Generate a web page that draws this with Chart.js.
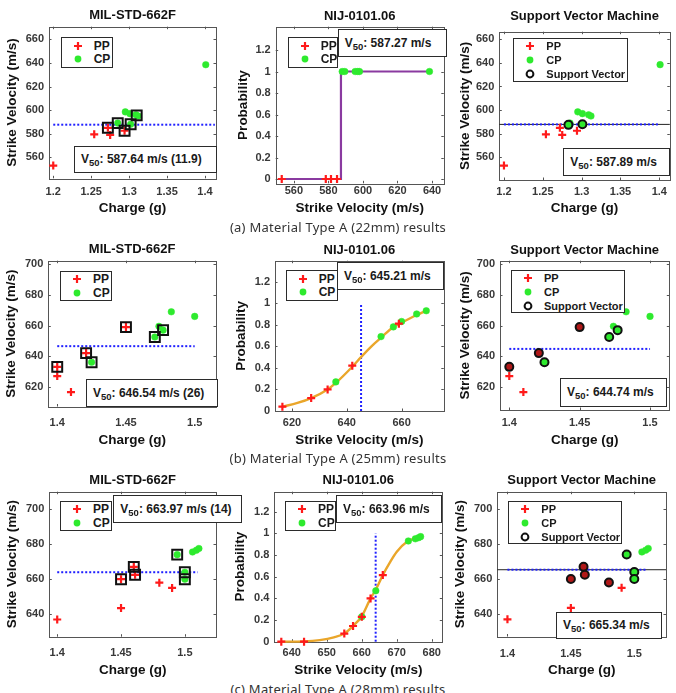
<!DOCTYPE html>
<html>
<head>
<meta charset="utf-8">
<title>V50 results - Material Type A</title>
<script src="https://cdn.jsdelivr.net/npm/chart.js"></script>
<style>
  body { margin: 0; background: #fff; }
  #page { position: relative; width: 676px; height: 693px; overflow: hidden; background: #fff; }
  canvas { position: absolute; }
  .legend, .v50 { position: absolute; background: #fff; border: 1px solid #2b2b2b; box-sizing: border-box;
    font-family: 'Liberation Sans', Arial, sans-serif; font-weight: bold; color: #1a1a1a; }
  .legend .mk { position: absolute; left: 11px; width: 10px; height: 10px; }
  .legend .mk svg { display: block; }
  .legend .lb { position: absolute; left: 32px; line-height: 14px; white-space: nowrap; }
  .v50 { display: flex; align-items: center; padding-left: 6px; font-size: 12px; white-space: nowrap; }
  .v50 sub { font-size: 9.5px; vertical-align: baseline; position: relative; top: 3px; }
  .caption { position: absolute; left: 0; width: 676px; text-align: center; font: 13px 'Noto Sans', sans-serif;
    letter-spacing: 0.25px; color: #333; line-height: 16px; }
</style>
</head>
<body>
<div id="page">
  <canvas id="mil22"></canvas><canvas id="nij22"></canvas><canvas id="svm22"></canvas>
  <canvas id="mil25"></canvas><canvas id="nij25"></canvas><canvas id="svm25"></canvas>
  <canvas id="mil28"></canvas><canvas id="nij28"></canvas><canvas id="svm28"></canvas>
  <div class="caption" style="top:219px">(a) Material Type A (22mm) results</div>
  <div class="caption" style="top:450px">(b) Material Type A (25mm) results</div>
  <div class="caption" style="top:681px">(c) Material Type A (28mm) results</div>
</div>

<script>
  // ---------- data: (a) 22 mm ----------
  const ppCharge22 = [1.200, 1.254, 1.272, 1.275, 1.294];
  const ppVel22    = [553, 579.5, 585, 579, 582.5];
  const cpCharge22 = [1.285, 1.295, 1.301, 1.302, 1.309, 1.312, 1.401];
  const cpVel22    = [589, 598.5, 597, 588, 596, 595, 638.5];
  const sqCharge22 = [1.272, 1.285, 1.294, 1.302, 1.310];   // MIL-STD squares
  const sqVel22    = [585, 589, 582.5, 588, 595.5];
  const svCharge22 = [1.283, 1.301];                        // support vectors (CP)
  const svVel22    = [587.5, 588];
  const nijPPVel22  = [553, 578.5, 581.5, 585];
  const nijPPProb22 = [0, 0, 0, 0];
  const nijCPVel22  = [588, 589.5, 595.5, 597, 598, 638.5];
  const nijCPProb22 = [1, 1, 1, 1, 1, 1];
  const stepVel22  = [553, 587.27, 587.27, 638.5];
  const stepProb22 = [0, 0, 1, 1];

  // ---------- data: (b) 25 mm ----------
  const ppCharge25 = [1.400, 1.400, 1.410, 1.421, 1.450];
  const ppVel25    = [633, 627, 616.5, 642, 659];
  const cpCharge25 = [1.425, 1.471, 1.474, 1.477, 1.483, 1.500];
  const cpVel25    = [636, 652.5, 659.5, 657, 669, 666];
  const sqCharge25 = [1.400, 1.421, 1.425, 1.450, 1.471, 1.477];
  const sqVel25    = [633, 642, 636, 659, 652.5, 657];
  const svPPCharge25 = [1.400, 1.421, 1.450];
  const svPPVel25    = [633, 642, 659];
  const svCPCharge25 = [1.425, 1.471, 1.477];
  const svCPVel25    = [636, 652.5, 657];
  const nijPPVel25  = [616.5, 627, 633, 642, 659];
  const nijPPProb25 = [0.04, 0.12, 0.20, 0.42, 0.81];
  const nijCPVel25  = [636, 652.5, 657, 660, 665.5, 669];
  const nijCPProb25 = [0.27, 0.69, 0.78, 0.83, 0.90, 0.93];
  const fitVel25  = [616.5, 622, 627, 633, 636, 642, 645.2, 649, 652.5, 657, 660, 665.5, 669];
  const fitProb25 = [0.04, 0.075, 0.12, 0.20, 0.26, 0.41, 0.50, 0.60, 0.68, 0.78, 0.82, 0.89, 0.93];

  // ---------- data: (c) 28 mm ----------
  const ppCharge28 = [1.400, 1.450, 1.450, 1.460, 1.461, 1.480, 1.490];
  const ppVel28    = [637, 643.5, 660, 667, 662.5, 658, 655];
  const cpCharge28 = [1.494, 1.500, 1.500, 1.506, 1.509, 1.511];
  const cpVel28    = [674, 664, 660, 675.5, 676.5, 677.5];
  const sqCharge28 = [1.450, 1.460, 1.461, 1.494, 1.500, 1.500];
  const sqVel28    = [660, 667, 662.5, 674, 664, 660];
  const svPPCharge28 = [1.450, 1.460, 1.461, 1.480];
  const svPPVel28    = [660, 667, 662.5, 658];
  const svCPCharge28 = [1.494, 1.500, 1.500];
  const svCPVel28    = [674, 664, 660];
  const nijPPVel28  = [637, 643.5, 655, 657.5, 660, 662.5, 666];
  const nijPPProb28 = [0, 0, 0.075, 0.145, 0.23, 0.40, 0.615];
  const nijCPVel28  = [660, 664, 673.3, 675.3, 676.2, 676.8];
  const nijCPProb28 = [0.23, 0.47, 0.93, 0.95, 0.96, 0.97];
  const fitVel28  = [637, 643.5, 648, 652, 655, 657.5, 660, 662.5, 664, 666, 668, 670, 673, 675.5, 677];
  const fitProb28 = [0, 0.003, 0.015, 0.04, 0.075, 0.145, 0.235, 0.40, 0.48, 0.615, 0.73, 0.83, 0.925, 0.955, 0.97];

  // ---------- V50 results ----------
  const v50Mil = [587.64, 646.54, 663.97];
  const milSpread = ['11.9', '26', '14'];
  const v50Nij = [587.27, 645.21, 663.96];
  const v50Svm = [587.89, 644.74, 665.34];
  const milSpan = [[1.200, 1.413], [1.400, 1.500], [1.400, 1.510]];
  const svmSpan = [[1.200, 1.400], [1.400, 1.500], [1.400, 1.510]];

  // ---------- axes ----------
  const milX22 = [1.1944, 1.4145], milY22 = [542.2, 670.7];
  const nijX22 = [549.5, 646.8],   nijY22 = [-0.04, 1.417];
  const svmX22 = [1.194, 1.4135],  svmY22 = [540.8, 666.4];
  const milX25 = [1.3935, 1.5155], milY25 = [607.1, 702.4];
  const nijX25 = [613.8, 675.4],   nijY25 = [0, 1.394];
  const svmX25 = [1.3934, 1.5137], svmY25 = [604.8, 702.4];
  const milX28 = [1.3938, 1.5244], milY28 = [627.2, 709.9];
  const nijX28 = [635.0, 683.0],   nijY28 = [0, 1.385];
  const svmX28 = [1.392, 1.525],   svmY28 = [627.2, 709.9];

  const chargeTicks22 = [1.2, 1.25, 1.3, 1.35, 1.4];
  const chargeTicks25 = [1.4, 1.45, 1.5];
  const velTicks22 = [560, 580, 600, 620, 640, 660];
  const velTicks25 = [620, 640, 660, 680, 700];
  const velTicks28 = [640, 660, 680, 700];
  const probTicks  = [0, 0.2, 0.4, 0.6, 0.8, 1, 1.2];
  const nijVelTicks22 = [560, 580, 600, 620, 640];
  const nijVelTicks25 = [620, 640, 660];
  const nijVelTicks28 = [640, 650, 660, 670, 680];

  // ---------- panel placement (page px) ----------
  const LAYOUT = {
    mil22: {rect: [0, 0, 225, 218],     plot: [49, 26.7, 218.5, 178.3],     titleY: 15,    yTitleX: 12.7,  xTitleY: 208.3, xTickY: 191.7},
    nij22: {rect: [225, 0, 225, 218],   plot: [275.7, 26.7, 447.7, 183.3],  titleY: 16,    yTitleX: 243.3, xTitleY: 208.3, xTickY: 190.7},
    svm22: {rect: [450, 0, 226, 218],   plot: [499.3, 31.7, 672.7, 180],    titleY: 16.7,  yTitleX: 465,   xTitleY: 208.3, xTickY: 191.7},
    mil25: {rect: [0, 232, 225, 218],   plot: [48.3, 260.7, 218.3, 406.5],  titleY: 249.3, yTitleX: 11.7,  xTitleY: 440,   xTickY: 422.7},
    nij25: {rect: [225, 232, 225, 218], plot: [275, 260.7, 444.3, 411],     titleY: 250,   yTitleX: 241.7, xTitleY: 440,   xTickY: 423.3},
    svm25: {rect: [450, 232, 226, 218], plot: [500, 260.7, 669.3, 410],     titleY: 250,   yTitleX: 465,   xTitleY: 440,   xTickY: 422.7},
    mil28: {rect: [0, 462, 225, 218],   plot: [49.3, 491.7, 218.3, 636.7],  titleY: 480,   yTitleX: 12.7,  xTitleY: 670.7, xTickY: 653.3},
    nij28: {rect: [225, 462, 225, 218], plot: [274.3, 491.7, 442.3, 641.7], titleY: 480.7, yTitleX: 240,   xTitleY: 670.7, xTickY: 653.3},
    svm28: {rect: [450, 462, 226, 218], plot: [497.3, 491.7, 666, 636.5],   titleY: 480.7, yTitleX: 460,   xTitleY: 670.7, xTickY: 654}
  };

  const RED = '#ff1a1a', GREEN = '#2eea2e', BLUE = '#2020ff';
  const FONT = "'Liberation Sans', Arial, sans-serif";
  Chart.defaults.font.family = FONT;

  const pts = (xs, ys) => xs.map((x, i) => ({x: x, y: ys[i]}));
  const ppSet = (xs, ys) => ({data: pts(xs, ys), pointStyle: 'cross', pointRadius: 4, borderColor: RED, borderWidth: 2.2, clip: false});
  const cpSet = (xs, ys) => ({data: pts(xs, ys), pointStyle: 'circle', pointRadius: 3.3, backgroundColor: GREEN, borderColor: GREEN, borderWidth: 0.5, clip: false});
  const sqSet = (xs, ys) => ({data: pts(xs, ys), pointStyle: 'rect', pointRadius: 7, backgroundColor: 'rgba(0,0,0,0)', borderColor: '#111', borderWidth: 2, clip: false});
  const svSet = (xs, ys, fill) => ({data: pts(xs, ys), pointStyle: 'circle', pointRadius: 4, backgroundColor: fill, borderColor: '#111', borderWidth: 2, clip: false});
  const lineSet = (xs, ys, color, width, dash, tension) => ({data: pts(xs, ys), showLine: true, pointRadius: 0, borderColor: color,
    borderWidth: width, borderDash: dash, tension: tension || 0, cubicInterpolationMode: tension ? 'monotone' : 'default', clip: false});

  // axes box with small inward ticks, like the original figure
  const boxPlugin = {
    id: 'axbox',
    beforeDatasetsDraw(chart) {
      const {ctx, chartArea: a, scales} = chart;
      ctx.save();
      ctx.strokeStyle = '#555';
      ctx.lineWidth = 1;
      ctx.strokeRect(Math.round(a.left) + 0.5, Math.round(a.top) + 0.5, Math.round(a.width), Math.round(a.height));
      ctx.beginPath();
      scales.x.ticks.forEach(t => {
        const px = Math.round(scales.x.getPixelForValue(t.value)) + 0.5;
        ctx.moveTo(px, a.bottom); ctx.lineTo(px, a.bottom - 2.5);
        ctx.moveTo(px, a.top); ctx.lineTo(px, a.top + 2.5);
      });
      scales.y.ticks.forEach(t => {
        const py = Math.round(scales.y.getPixelForValue(t.value)) + 0.5;
        ctx.moveTo(a.left, py); ctx.lineTo(a.left + 2.5, py);
        ctx.moveTo(a.right, py); ctx.lineTo(a.right - 2.5, py);
      });
      ctx.stroke();
      ctx.restore();
    }
  };

  function build(id, title, xTitle, yTitle, xRange, yRange, xTicks, yTicks, datasets) {
    const L = LAYOUT[id];
    const [cx, cy, cw, ch] = L.rect;
    const [pl, pt, pr, pb] = L.plot;
    const cv = document.getElementById(id);
    cv.width = cw; cv.height = ch;
    cv.style.left = cx + 'px'; cv.style.top = cy + 'px';
    const TL = 13 * 1.2, AL = 13.5 * 1.2, KL = 11 * 1.2;
    const tickOpts = {color: '#383838', font: {size: 11, weight: 'bold'}, maxRotation: 0, autoSkip: false, callback: v => String(v)};
    return new Chart(cv, {
      type: 'scatter',
      data: {datasets: datasets},
      options: {
        responsive: false,
        animation: false,
        events: [],
        layout: {padding: {left: 0, top: 0, bottom: 0, right: cx + cw - pr}},
        plugins: {
          legend: {display: false},
          tooltip: {enabled: false},
          title: {display: true, text: title, fullSize: false, color: '#111', font: {size: 13, weight: 'bold'},
                  padding: {top: L.titleY - cy - TL / 2, bottom: pt - L.titleY - TL / 2}}
        },
        scales: {
          x: {
            type: 'linear', min: xRange[0], max: xRange[1],
            grid: {display: false, drawTicks: false}, border: {display: false},
            afterBuildTicks: s => { s.ticks = xTicks.map(v => ({value: v})); },
            afterFit: s => { s.height = cy + ch - pb; s.paddingLeft = 0; s.paddingRight = 0; },
            ticks: Object.assign({padding: L.xTickY - pb - KL / 2}, tickOpts),
            title: {display: true, text: xTitle, color: '#111', font: {size: 13.5, weight: 'bold'},
                    padding: {top: 0, bottom: cy + ch - L.xTitleY - AL / 2}}
          },
          y: {
            type: 'linear', min: yRange[0], max: yRange[1],
            grid: {display: false, drawTicks: false}, border: {display: false},
            afterBuildTicks: s => { s.ticks = yTicks.map(v => ({value: v})); },
            afterFit: s => { s.width = pl - cx; s.paddingTop = 0; s.paddingBottom = 0; },
            ticks: Object.assign({padding: 5}, tickOpts),
            title: {display: true, text: yTitle, color: '#111', font: {size: 13.5, weight: 'bold'},
                    padding: {top: L.yTitleX - cx - AL / 2, bottom: 0}}
          }
        }
      },
      plugins: [boxPlugin]
    });
  }

  const SV = 'Strike Velocity (m/s)', CH = 'Charge (g)', PR = 'Probability';
  const MIL = 'MIL-STD-662F', NIJ = 'NIJ-0101.06', SVM = 'Support Vector Machine';
  const DOT = [2, 2];

  // ----- row (a) -----
  build('mil22', MIL, CH, SV, milX22, milY22, chargeTicks22, velTicks22, [
    sqSet(sqCharge22, sqVel22), ppSet(ppCharge22, ppVel22), cpSet(cpCharge22, cpVel22),
    lineSet(milSpan[0], [v50Mil[0], v50Mil[0]], BLUE, 2, DOT)
  ]);
  build('nij22', NIJ, SV, PR, nijX22, nijY22, nijVelTicks22, probTicks, [
    ppSet(nijPPVel22, nijPPProb22), cpSet(nijCPVel22, nijCPProb22),
    lineSet(stepVel22, stepProb22, '#8a3aa0', 2.2, [])
  ]);
  build('svm22', SVM, CH, SV, svmX22, svmY22, chargeTicks22, velTicks22, [
    svSet(svCharge22, svVel22, GREEN), ppSet(ppCharge22, ppVel22), cpSet(cpCharge22, cpVel22),
    lineSet(svmSpan[0], [v50Svm[0], v50Svm[0]], BLUE, 2, DOT),
    lineSet(svmX22, [v50Svm[0], v50Svm[0]], '#222', 1, [])
  ]);

  // ----- row (b) -----
  build('mil25', MIL, CH, SV, milX25, milY25, chargeTicks25, velTicks25, [
    sqSet(sqCharge25, sqVel25), ppSet(ppCharge25, ppVel25), cpSet(cpCharge25, cpVel25),
    lineSet(milSpan[1], [v50Mil[1], v50Mil[1]], BLUE, 2, DOT)
  ]);
  build('nij25', NIJ, SV, PR, nijX25, nijY25, nijVelTicks25, probTicks, [
    ppSet(nijPPVel25, nijPPProb25), cpSet(nijCPVel25, nijCPProb25),
    lineSet(fitVel25, fitProb25, '#eaa62a', 2.4, [], 0.4),
    lineSet([v50Nij[1], v50Nij[1]], [0, 1], BLUE, 2, DOT)
  ]);
  build('svm25', SVM, CH, SV, svmX25, svmY25, chargeTicks25, velTicks25, [
    svSet(svPPCharge25, svPPVel25, '#b01818'), svSet(svCPCharge25, svCPVel25, GREEN),
    ppSet(ppCharge25, ppVel25), cpSet(cpCharge25, cpVel25),
    lineSet(svmSpan[1], [v50Svm[1], v50Svm[1]], BLUE, 2, DOT)
  ]);

  // ----- row (c) -----
  build('mil28', MIL, CH, SV, milX28, milY28, chargeTicks25, velTicks28, [
    sqSet(sqCharge28, sqVel28), ppSet(ppCharge28, ppVel28), cpSet(cpCharge28, cpVel28),
    lineSet(milSpan[2], [v50Mil[2], v50Mil[2]], BLUE, 2, DOT)
  ]);
  build('nij28', NIJ, SV, PR, nijX28, nijY28, nijVelTicks28, probTicks, [
    ppSet(nijPPVel28, nijPPProb28), cpSet(nijCPVel28, nijCPProb28),
    lineSet(fitVel28, fitProb28, '#eaa62a', 2.4, [], 0.4),
    lineSet([v50Nij[2], v50Nij[2]], [0, 1], BLUE, 2, DOT)
  ]);
  build('svm28', SVM, CH, SV, svmX28, svmY28, chargeTicks25, velTicks28, [
    svSet(svPPCharge28, svPPVel28, '#b01818'), svSet(svCPCharge28, svCPVel28, GREEN),
    ppSet(ppCharge28, ppVel28), cpSet(cpCharge28, cpVel28),
    lineSet(svmSpan[2], [v50Svm[2], v50Svm[2]], BLUE, 2, DOT),
    lineSet(svmX28, [v50Svm[2], v50Svm[2]], '#222', 1, [])
  ]);

  // ----- legends and V50 boxes (HTML text) -----
  const page = document.getElementById('page');
  const legendNames = {PP: 'PP', CP: 'CP', SV: 'Support Vector'};
  const MARK = {
    PP: '<svg width="10" height="10"><path d="M5 1V9M1 5H9" stroke="' + RED + '" stroke-width="2.2"/></svg>',
    CP: '<svg width="10" height="10"><circle cx="5" cy="5" r="3.4" fill="' + GREEN + '"/></svg>',
    SV: '<svg width="10" height="10"><circle cx="5" cy="5" r="3.4" fill="none" stroke="#111" stroke-width="2"/></svg>'
  };
  function addDiv(cls, l, t, w, h, html) {
    const d = document.createElement('div');
    d.className = cls;
    d.style.left = l + 'px'; d.style.top = t + 'px';
    d.style.width = w + 'px'; d.style.height = h + 'px';
    d.innerHTML = html;
    page.appendChild(d);
    return d;
  }
  function addLegend(l, t, w, h, keys, size) {
    const rows = keys.length === 2 ? [7.5, 21] : [6.5, 20.5, 35];
    let html = '';
    keys.forEach((k, i) => {
      html += '<div class="mk" style="top:' + (rows[i] - 5) + 'px">' + MARK[k] + '</div>' +
              '<div class="lb" style="top:' + (rows[i] - 7) + 'px">' + legendNames[k] + '</div>';
    });
    addDiv('legend', l, t, w, h, html).style.fontSize = size + 'px';
  }
  function addV50(l, t, w, h, value, extra) {
    addDiv('v50', l, t, w, h, '<span>V<sub>50</sub>: ' + value.toFixed(2) + ' m/s' + (extra ? ' (' + extra + ')' : '') + '</span>');
  }

  addLegend(60.7, 37.3, 52.6, 30.4, ['PP', 'CP'], 12);
  addLegend(287.7, 37.3, 50.6, 30.4, ['PP', 'CP'], 12);
  addLegend(513.3, 38.3, 115, 43.4, ['PP', 'CP', 'SV'], 11);
  addLegend(60, 270.7, 52, 30, ['PP', 'CP'], 12);
  addLegend(285.7, 270, 52, 30.7, ['PP', 'CP'], 12);
  addLegend(511, 270, 114, 43.3, ['PP', 'CP', 'SV'], 11);
  addLegend(60, 500.7, 52, 30, ['PP', 'CP'], 12);
  addLegend(285, 500.7, 51, 30.3, ['PP', 'CP'], 12);
  addLegend(508.3, 501, 113.4, 43.3, ['PP', 'CP', 'SV'], 11);

  addV50(74, 145.7, 142.7, 27.6, v50Mil[0], milSpread[0]);
  addV50(337.7, 29.3, 109, 27.4, v50Nij[0]);
  addV50(563.3, 148.3, 106.7, 27.7, v50Svm[0]);
  addV50(86, 379.3, 132.3, 27.4, v50Mil[1], milSpread[1]);
  addV50(337, 262.3, 107.3, 27.7, v50Nij[1]);
  addV50(560, 378.3, 106.7, 28.4, v50Svm[1]);
  addV50(113.3, 495, 129.2, 27.7, v50Mil[2], milSpread[2]);
  addV50(336, 495, 106.3, 28.3, v50Nij[2]);
  addV50(556, 611.7, 105.7, 27.6, v50Svm[2]);
</script>
</body>
</html>
